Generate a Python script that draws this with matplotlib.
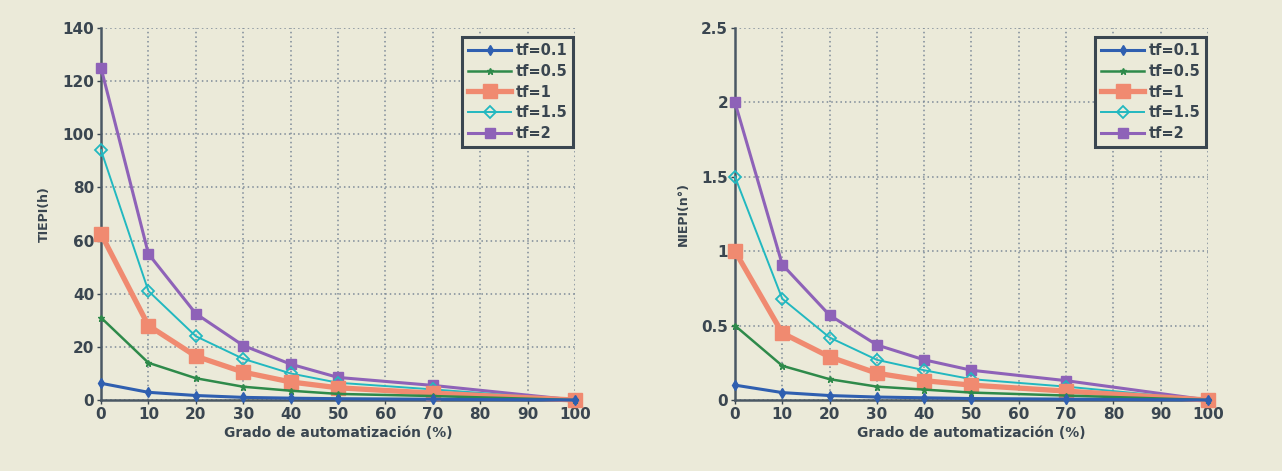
import matplotlib
matplotlib.use("Agg")
import matplotlib.pyplot as plt
import numpy as np

x = [0, 10, 20, 30, 40, 50, 70, 100]
labels = ["tf=0.1", "tf=0.5", "tf=1", "tf=1.5", "tf=2"]

tiepi_01 = [6.3, 2.9, 1.7, 1.0, 0.7, 0.5, 0.3, 0]
tiepi_05 = [31, 14, 8.2, 5.0, 3.5, 2.3, 1.5, 0]
tiepi_1 = [62.5, 28, 16.5, 10.5, 6.8, 4.6, 2.6, 0]
tiepi_15 = [94, 41, 24, 15.5, 10, 6.5, 4.0, 0]
tiepi_2 = [125, 55, 32.5, 20.5, 13.5, 8.5, 5.5, 0]

niepi_01 = [0.10, 0.05, 0.03, 0.02, 0.015, 0.01, 0.006, 0]
niepi_05 = [0.50, 0.23, 0.14, 0.09, 0.07, 0.05, 0.03, 0]
niepi_1 = [1.0, 0.45, 0.29, 0.18, 0.13, 0.10, 0.06, 0]
niepi_15 = [1.5, 0.68, 0.42, 0.27, 0.20, 0.14, 0.09, 0]
niepi_2 = [2.0, 0.91, 0.57, 0.37, 0.27, 0.20, 0.13, 0]

colors = ["#2f5fb0", "#2e8a4a", "#f08a70", "#22b8c0", "#8e62b8"]
markers = ["d", "*", "s", "D", "s"]
msizes = [5, 5, 10, 6, 7]
lws = [2.2, 1.8, 3.8, 1.4, 2.2]
mfc = [None, None, None, "none", None]

bg = "#ebead9"
txt = "#3a4650"
fig = plt.figure(figsize=(12.82, 4.71), dpi=100, facecolor=bg)

def draw(ax, series, ylim, yticks, yticklabels, ylabel):
    ax.set_facecolor(bg)
    for i, s in enumerate(series):
        kw = dict(color=colors[i], lw=lws[i], marker=markers[i], ms=msizes[i],
                  label=labels[i], zorder=3 + (4 - i) * 0.1, clip_on=False)
        if mfc[i] == "none":
            kw["mfc"] = "none"
            kw["mew"] = 1.3
        ax.plot(x, s, **kw)
    ax.set_xlim(0, 100)
    ax.set_ylim(*ylim)
    ax.set_xticks(range(0, 101, 10))
    ax.set_yticks(yticks)
    ax.set_yticklabels(yticklabels)
    ax.grid(True, ls=(0, (1, 2)), color="#7d8a98", lw=1.1)
    for sp in ["top", "right"]:
        ax.spines[sp].set_visible(False)
    for sp in ["left", "bottom"]:
        ax.spines[sp].set_color("#4a5864")
        ax.spines[sp].set_linewidth(1.8)
    ax.tick_params(colors=txt, labelsize=11, length=3, width=1, pad=2)
    for lab in ax.get_xticklabels() + ax.get_yticklabels():
        lab.set_fontweight("semibold")
    ax.set_xlabel("Grado de automatización (%)", fontsize=10, fontweight="bold",
                  color=txt, labelpad=3)
    ax.set_ylabel(ylabel, fontsize=9, fontweight="bold", color=txt, labelpad=8)
    leg = ax.legend(loc="upper right", fontsize=10.5, frameon=True, fancybox=False,
                    borderpad=0.4, labelspacing=0.4, handlelength=3.0,
                    handletextpad=0.3, bbox_to_anchor=(1.012, 0.995))
    leg.get_frame().set_edgecolor(txt)
    leg.get_frame().set_linewidth(2.2)
    leg.get_frame().set_facecolor(bg)
    leg.get_frame().set_alpha(1)
    for t in leg.get_texts():
        t.set_color(txt)
        t.set_fontweight("semibold")

ax1 = fig.add_axes([0.0788, 0.1507, 0.3697, 0.790])
draw(ax1, [tiepi_01, tiepi_05, tiepi_1, tiepi_15, tiepi_2], (0, 140),
     range(0, 141, 20), [str(v) for v in range(0, 141, 20)], "TIEPI(h)")

ax2 = fig.add_axes([0.5733, 0.1507, 0.369, 0.790])
yt = [0, 0.5, 1, 1.5, 2, 2.5]
draw(ax2, [niepi_01, niepi_05, niepi_1, niepi_15, niepi_2], (0, 2.5),
     yt, ["0", "0.5", "1", "1.5", "2", "2.5"], "NIEPI(n°)")

fig.savefig("out.png", dpi=100, facecolor=bg)
